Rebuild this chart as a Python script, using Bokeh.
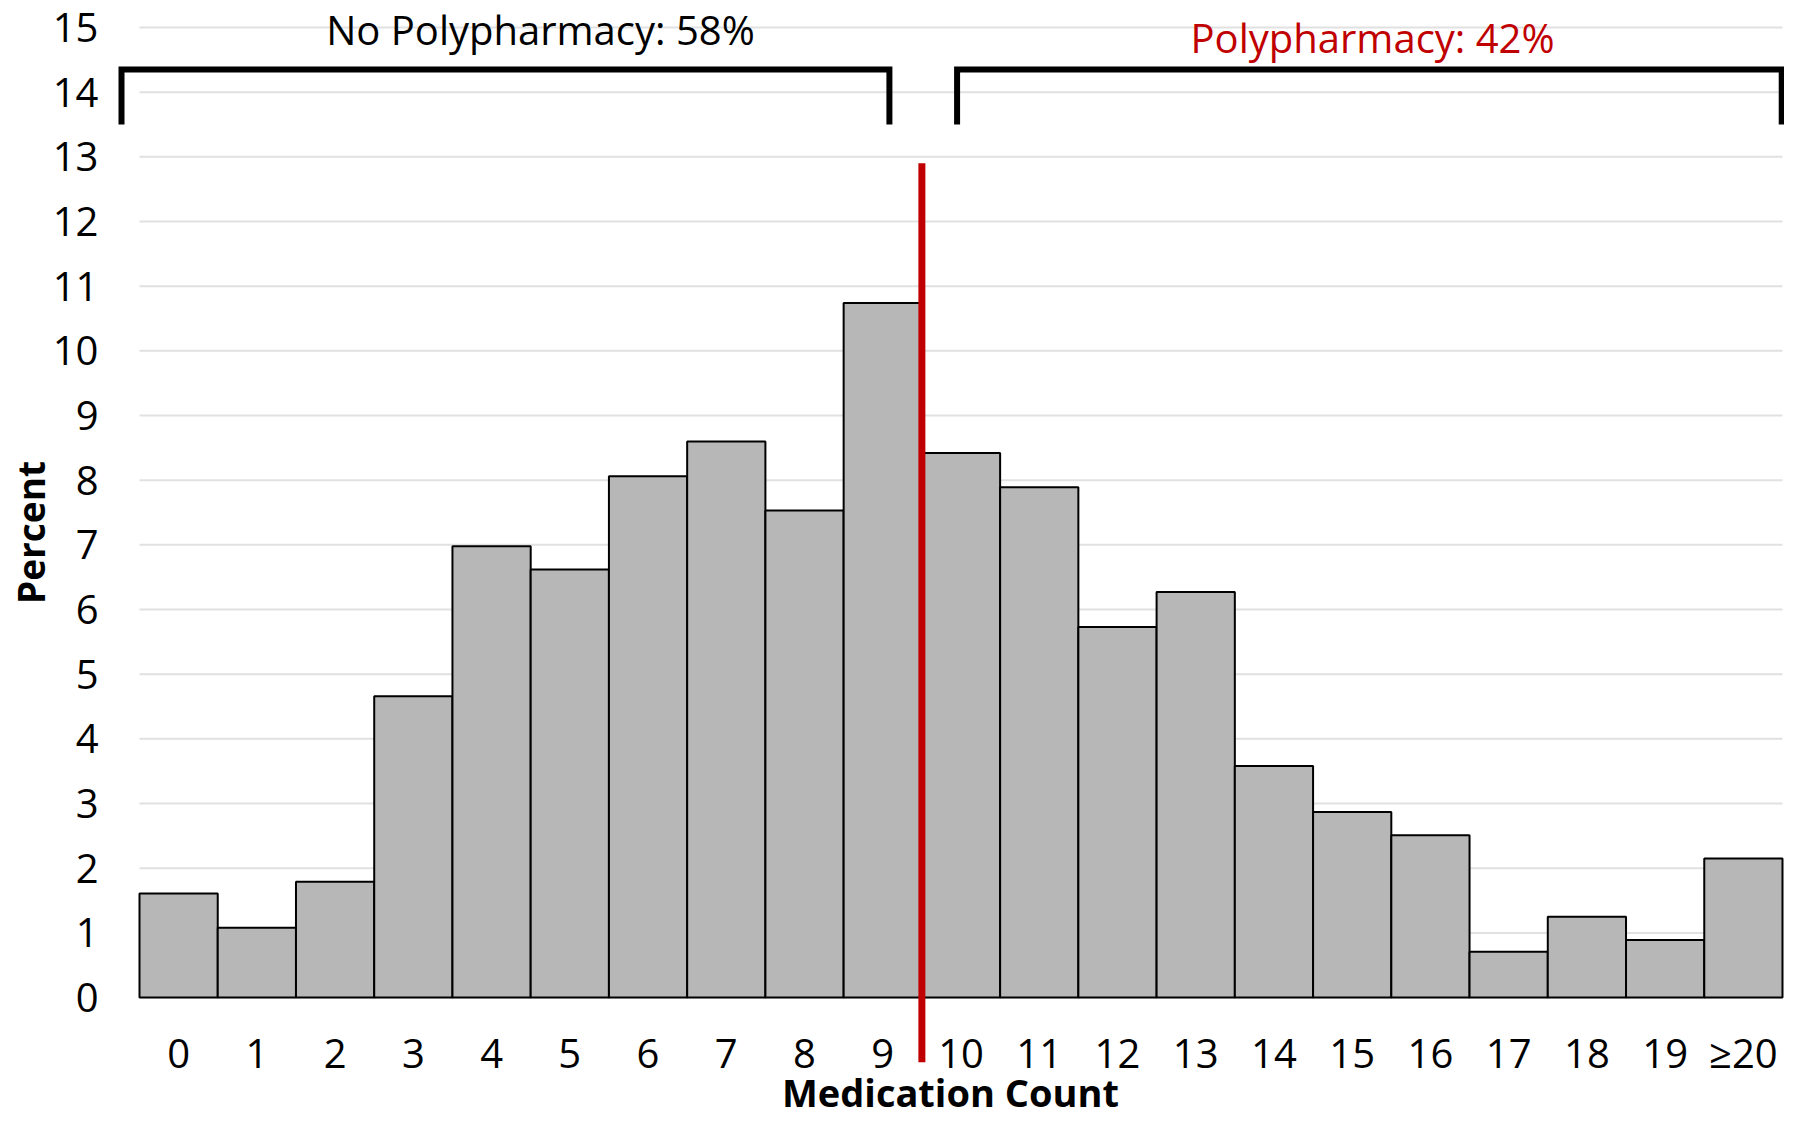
from bokeh.plotting import figure
from bokeh.models import FixedTicker, Range1d
from bokeh.embed import file_html
from bokeh.resources import INLINE
from bokeh.core.properties import value

# ---- data ----
categories = ["0", "1", "2", "3", "4", "5", "6", "7", "8", "9", "10",
              "11", "12", "13", "14", "15", "16", "17", "18", "19", "≥20"]
percent = [1.61, 1.08, 1.79, 4.66, 6.98, 6.62, 8.06, 8.60, 7.53, 10.74,
           8.42, 7.89, 5.73, 6.27, 3.58, 2.87, 2.51, 0.71, 1.25, 0.89, 2.15]
y_ticks = list(range(0, 16))
poly_threshold = 10          # medication count at which polypharmacy starts
group_labels = ["No Polypharmacy: 58%", "Polypharmacy: 42%"]
x_title = "Medication Count"
y_title = "Percent"

positions = list(range(len(categories)))
FONT = "Open Sans"

# ---- frame calibration ----
W, H = 1784, 1120
LEFT, BOTTOM = 116, 56
FRAME_W = W - LEFT
FRAME_H = H - BOTTOM
PX_X = 78.238
PX_Y = 64.67
X_START = -0.5 - 23 / PX_X
X_END = X_START + FRAME_W / PX_X
Y_END = 15 + 27 / PX_Y
Y_START = Y_END - FRAME_H / PX_Y

p = figure(width=W, height=H, output_backend="svg", toolbar_location=None,
           x_range=Range1d(X_START, X_END), y_range=Range1d(Y_START, Y_END),
           min_border_left=LEFT, min_border_right=0, min_border_top=0,
           min_border_bottom=BOTTOM)
p.outline_line_color = None
p.background_fill_color = "white"
p.border_fill_color = "white"
p.xgrid.grid_line_color = None
p.ygrid.grid_line_color = None

# gridlines restricted to the bar span
x_lo = positions[0] - 0.5
x_hi = positions[-1] + 0.5
p.segment(x0=[x_lo] * len(y_ticks), x1=[x_hi] * len(y_ticks), y0=y_ticks, y1=y_ticks,
          line_color="#e1e1e1", line_width=2)

# bars
p.vbar(x=positions, top=percent, width=1.0, bottom=0,
       fill_color="#b7b7b7", line_color="black", line_width=2)

# threshold line
xt = poly_threshold - 0.5
p.segment(x0=[xt], x1=[xt], y0=[-1.0], y1=[12.9], line_color="#c00000", line_width=7)

# brackets
bk_top, bk_bot = 14.35, 13.5
p.multi_line(xs=[[-0.73, -0.73, 9.085, 9.085], [9.95, 9.95, 20.49, 20.49]],
             ys=[[bk_bot, bk_top, bk_top, bk_bot], [bk_bot, bk_top, bk_top, bk_bot]],
             line_color="black", line_width=6, line_join="miter")

# group labels
p.text(x=[4.625], y=[14.97], text=[group_labels[0]], text_color="black",
       text_font=value(FONT), text_font_size="40px", text_align="center",
       text_baseline="alphabetic")
p.text(x=[15.26], y=[14.85], text=[group_labels[1]], text_color="#c00000",
       text_font=value(FONT), text_font_size="40px", text_align="center",
       text_baseline="alphabetic")

# axes
ya = p.yaxis[0]
ya.ticker = FixedTicker(ticks=y_ticks)
ya.axis_line_color = None
ya.major_tick_line_color = None
ya.minor_tick_line_color = None
ya.major_label_text_font = FONT
ya.major_label_text_font_size = "40px"
ya.major_label_text_color = "black"
ya.major_label_standoff = 12
ya.axis_label = y_title
ya.axis_label_text_font = FONT
ya.axis_label_text_font_size = "37px"
ya.axis_label_text_font_style = "bold"
ya.axis_label_text_color = "black"
ya.axis_label_standoff = -6

xa = p.xaxis[0]
xa.ticker = FixedTicker(ticks=positions)
xa.major_label_overrides = {i: c for i, c in zip(positions, categories)}
xa.axis_line_color = None
xa.major_tick_line_color = None
xa.minor_tick_line_color = None
xa.major_label_text_font = FONT
xa.major_label_text_font_size = "40px"
xa.major_label_text_color = "black"
xa.major_label_standoff = -46
xa.axis_label = x_title
xa.axis_label_text_font = FONT
xa.axis_label_text_font_size = "38px"
xa.axis_label_text_font_style = "bold"
xa.axis_label_text_color = "black"
xa.axis_label_standoff = -17

open("out.html", "w").write(file_html(p, INLINE))
